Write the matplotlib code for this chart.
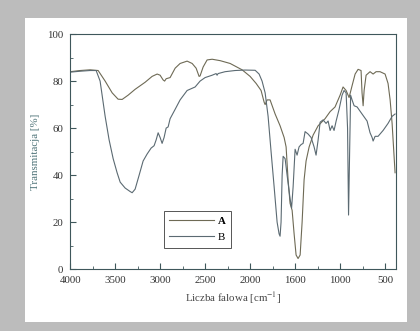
import numpy as np
from matplotlib import pyplot as plt
from matplotlib.patches import Rectangle

# widmo A (plytkie pasmo OH)
wn_A = [4000, 3889, 3778, 3689, 3611, 3533, 3467, 3422, 3356, 3278, 3167, 3089, 3033, 3000,
        2967, 2950, 2933, 2889, 2833, 2778, 2700, 2644, 2600, 2567, 2556, 2522, 2478, 2422,
        2333, 2222, 2089, 2000, 1933, 1878, 1844, 1833, 1811, 1778, 1722, 1667, 1622, 1600,
        1578, 1556, 1533, 1511, 1489, 1467, 1444, 1422, 1400, 1378, 1344, 1300, 1244, 1167,
        1111, 1056, 1000, 967, 933, 900, 867, 833, 800, 767, 756, 744, 733, 711, 667, 633,
        600, 556, 500, 467, 444, 422, 400, 389]
T_A = [84, 84.5, 84.8, 84.5, 80, 75, 72.3, 72.2, 74, 76.5, 79.5, 82, 83, 82.5,
       80.5, 80, 81, 81.5, 85.5, 87.5, 88.5, 87.5, 85.5, 82, 82.2, 86, 89, 89.3,
       88.7, 87.5, 84.8, 82, 79, 76, 71, 70, 72, 72, 66, 61, 56, 52,
       38, 28, 25, 15, 6, 4.5, 6, 20, 38, 46, 52, 57, 61, 64,
       67, 69, 74, 77.5, 76, 73, 78, 83, 85, 84.5, 75, 69.5, 76, 82.5, 84, 83,
       84, 84, 83, 79, 72, 62, 48, 41]

# widmo B (szerokie pasmo OH)
wn_B = [4000, 3889, 3778, 3711, 3667, 3611, 3567, 3522, 3478, 3444, 3389, 3333, 3311,
        3278, 3233, 3189, 3144, 3100, 3067, 3044, 3022, 3000, 2978, 2956, 2933, 2911, 2889,
        2833, 2778, 2700, 2611, 2556, 2500, 2422, 2378, 2367, 2356, 2278, 2167, 2056, 1944,
        1900, 1867, 1833, 1800, 1767, 1733, 1700, 1678, 1667, 1656, 1644, 1633, 1611, 1589,
        1556, 1539, 1522, 1500, 1478, 1456, 1433, 1411, 1389, 1356, 1322, 1289, 1267, 1244,
        1222, 1189, 1156, 1133, 1111, 1089, 1067, 1044, 1011, 978, 956, 933, 917, 906, 894,
        883, 867, 844, 811, 756, 700, 667, 644, 633, 611, 578, 522, 467, 422, 389]
T_B = [83.8, 84.2, 84.5, 84.5, 80, 65, 55, 47, 41, 37, 34.5, 33, 32.5,
       34, 40, 46, 49, 51.5, 52.5, 55, 58, 56, 53.5, 56, 60, 60.5, 64,
       68, 72, 76, 77.5, 80, 81.5, 82.5, 83.2, 82.5, 83.2, 84, 84.5, 84.7, 84.6,
       83, 80, 75, 65, 50, 35, 20, 15, 14, 20, 40, 48, 47, 40,
       30, 26, 35, 51, 48.5, 52, 53, 53.5, 58.5, 57.5, 56, 52, 48.5, 55,
       62.5, 63.5, 62, 63, 59, 61, 59, 63, 68, 74, 76, 75, 60, 23, 50,
       74, 72, 69.5, 69, 66, 63, 58, 56, 54.5, 56.5, 56.5, 59, 62, 65, 66]

xticks = [4000, 3500, 3000, 2500, 2000, 1500, 1000, 500]
xlabels = ['4000', '3500', '3000', '2500', '2000', '1600', '1000', '500']
yticks = [0, 20, 40, 60, 80, 100]

plt.rcParams['font.family'] = ['Liberation Serif', 'DejaVu Serif']
plt.rcParams['mathtext.fontset'] = 'stix'

fig = plt.figure(figsize=(4.2, 3.31), dpi=100)
fig.patch.set_facecolor('#bcbcbc')
fig.patches.append(Rectangle((25/420, 1-322/331), 382/420, 304/331, transform=fig.transFigure,
                             facecolor='white', edgecolor='none', zorder=-10))

ax = fig.add_axes([0.167, 0.187, 0.776, 0.710])
ax.plot(wn_A, T_A, color='#6e6a55', lw=0.8, label='A')
ax.plot(wn_B, T_B, color='#5b6a72', lw=0.8, label='B')

ax.set_xlim(4000, 378)
ax.set_ylim(0, 100)
ax.set_xticks(xticks)
ax.set_xticklabels(xlabels)
ax.set_xticks([3750, 3250, 2750, 2250, 1750, 1250, 750], minor=True)
ax.set_yticks(yticks)
ax.set_yticks([10, 30, 50, 70, 90], minor=True)

axcol = '#3f575b'
for s in ax.spines.values():
    s.set_color(axcol)
    s.set_linewidth(0.8)
ax.tick_params(which='both', direction='in', color=axcol, top=False, right=False)
ax.tick_params(which='major', length=4, labelsize=7.8, labelcolor='#333333', pad=5)
ax.tick_params(which='minor', length=2.5)

ax.set_xlabel('Liczba falowa [cm$^{-1}$]', fontsize=7.8, color='#444444', labelpad=4)
ax.set_ylabel('Transmitacja [%]', fontsize=7.8, color='#4f7479', labelpad=5)

leg = ax.legend(loc='lower left', bbox_to_anchor=(0.27, 0.068), fancybox=False,
                edgecolor='#555555', fontsize=7.8, handlelength=4.2, handletextpad=0.3,
                borderpad=0.5, labelspacing=0.6, framealpha=1)
leg.get_frame().set_linewidth(0.7)
leg.get_texts()[0].set_fontweight('bold')

fig.savefig('out.png', dpi=100, facecolor=fig.get_facecolor())
